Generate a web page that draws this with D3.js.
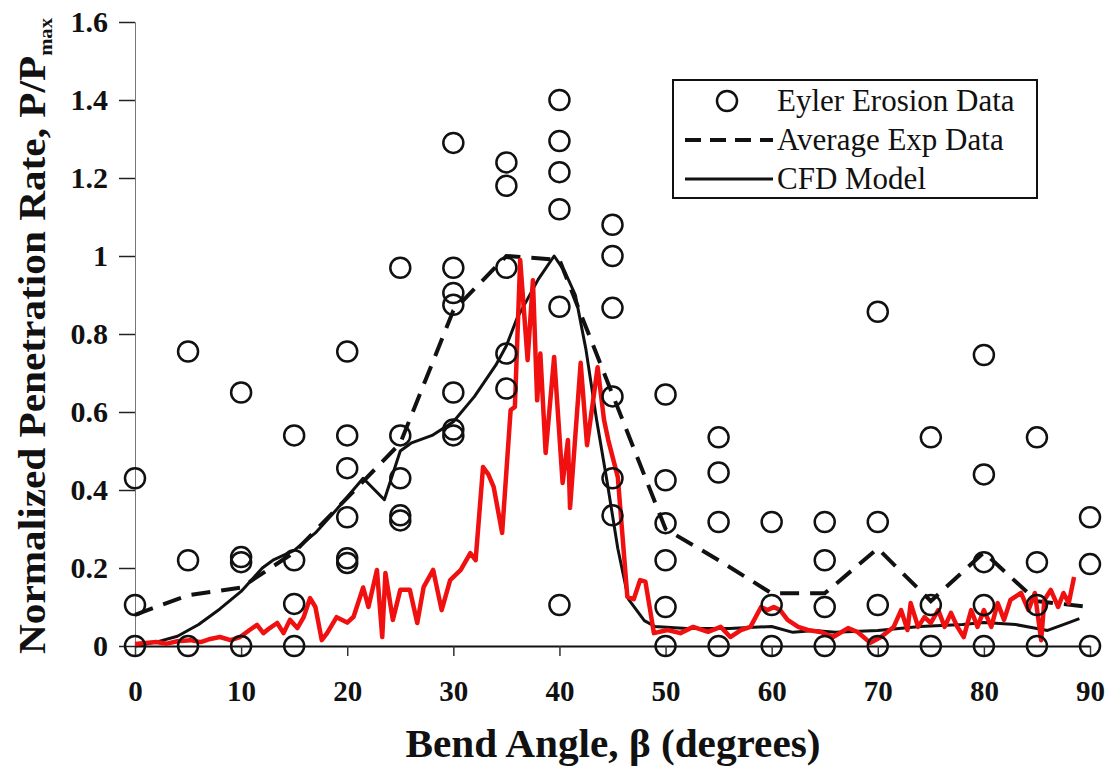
<!DOCTYPE html>
<html>
<head>
<meta charset="utf-8">
<script src="https://cdn.jsdelivr.net/npm/d3@7"></script>
<style>
  html, body { margin: 0; padding: 0; background: #fff; }
  svg { display: block; font-family: "Liberation Serif", "Times New Roman", serif; }
</style>
</head>
<body>
<svg id="chart" width="1109" height="766"></svg>
<script>
// Bend angles where the erosion data was measured
const angles = [0, 5, 10, 15, 20, 25, 30, 35, 40, 45, 50, 55, 60, 65, 70, 75, 80, 85, 90];

// Eyler erosion data, several readings per angle
const eylerValues = [
  [0.43, 0.105, 0],
  [0.755, 0.22, 0],
  [0.65, 0.228, 0.215, 0],
  [0.54, 0.22, 0.108, 0],
  [0.755, 0.54, 0.456, 0.33, 0.225, 0.213],
  [0.97, 0.54, 0.43, 0.335, 0.322],
  [1.29, 0.97, 0.905, 0.875, 0.65, 0.555, 0.54],
  [1.24, 1.18, 0.97, 0.75, 0.66],
  [1.40, 1.295, 1.215, 1.12, 0.87, 0.105],
  [1.08, 1.0, 0.867, 0.64, 0.43, 0.335],
  [0.645, 0.425, 0.315, 0.22, 0.10, 0],
  [0.535, 0.445, 0.318, 0],
  [0.318, 0.105, 0],
  [0.318, 0.22, 0.10, 0],
  [0.857, 0.318, 0.105, 0],
  [0.535, 0.105, 0],
  [0.746, 0.44, 0.215, 0.105, 0],
  [0.535, 0.215, 0.105, 0],
  [0.33, 0.21, 0]
];

// Average experimental data
const avgExp = [0.08, 0.13, 0.15, 0.24, 0.38, 0.52, 0.86, 1.0, 0.99, 0.645, 0.30, 0.22, 0.135, 0.135, 0.25, 0.115, 0.24, 0.115, 0.10];

// CFD model curve
const cfdAngles = [0, 2, 4, 6, 8, 10, 12, 13, 15, 17, 19, 21.5, 23.5, 25, 26, 28, 30, 32, 34, 35, 36, 37, 38, 39.5, 40.5, 41.5, 42.5, 43.5, 44.5, 45.5, 46.5, 48, 49, 52, 56, 60, 62, 64, 66, 70, 74, 78, 80, 83, 85, 86, 88, 89];
const cfdValues = [0, 0.01, 0.025, 0.055, 0.095, 0.14, 0.2, 0.22, 0.245, 0.29, 0.35, 0.43, 0.375, 0.5, 0.52, 0.54, 0.575, 0.64, 0.72, 0.77, 0.84, 0.89, 0.94, 1.0, 0.96, 0.9, 0.76, 0.58, 0.42, 0.25, 0.12, 0.065, 0.05, 0.045, 0.045, 0.05, 0.035, 0.04, 0.035, 0.04, 0.05, 0.055, 0.06, 0.055, 0.045, 0.04, 0.06, 0.07];

// Red overlay curve
const redAngles = [0, 1, 2, 3, 4, 5.2, 6.2, 7.1, 8, 9, 9.9, 10.8, 11.5, 12.1, 12.7, 13.4, 14, 14.6, 15.3, 15.9, 16.5, 17, 17.6, 18.1, 19, 20, 20.6, 21.5, 22, 22.8, 23.3, 23.6, 24.3, 25, 25.9, 26.6, 27.2, 28.1, 28.9, 29.7, 30.7, 31.6, 32.1, 32.8, 33.3, 33.8, 34.6, 35.4, 35.8, 36.3, 37, 37.5, 37.9, 38.2, 38.7, 39.5, 40.3, 40.8, 41, 42, 42.6, 43.6, 44.2, 44.6, 45.5, 46.4, 47, 47.6, 48.1, 48.5, 48.9, 50.2, 51.4, 52.6, 54, 55.2, 56.1, 57.1, 58, 59, 59.6, 60.2, 60.8, 61.5, 62.5, 63.4, 64.6, 65.8, 67.2, 68.1, 69.3, 70.3, 71.5, 72.2, 72.8, 73.1, 73.8, 74.4, 75, 75.7, 76.3, 76.9, 77.5, 78.1, 78.8, 79.4, 80, 80.7, 81.3, 81.9, 82.5, 83.5, 84.2, 84.8, 85.4, 85.7, 86.3, 87, 87.5, 88, 88.5];
const redValues = [0.005, 0.008, 0.01, 0.006, 0.012, 0.015, 0.01, 0.018, 0.023, 0.015, 0.023, 0.041, 0.054, 0.033, 0.046, 0.059, 0.033, 0.067, 0.046, 0.074, 0.123, 0.10, 0.015, 0.033, 0.074, 0.06, 0.075, 0.15, 0.10, 0.195, 0.023, 0.187, 0.067, 0.144, 0.144, 0.059, 0.151, 0.195, 0.092, 0.169, 0.195, 0.238, 0.22, 0.459, 0.44, 0.408, 0.29, 0.605, 0.613, 0.99, 0.733, 0.938, 0.63, 0.75, 0.495, 0.741, 0.418, 0.528, 0.354, 0.726, 0.515, 0.715, 0.58, 0.528, 0.433, 0.126, 0.12, 0.169, 0.165, 0.10, 0.033, 0.041, 0.033, 0.049, 0.036, 0.049, 0.023, 0.041, 0.049, 0.10, 0.092, 0.10, 0.092, 0.067, 0.049, 0.041, 0.036, 0.023, 0.046, 0.036, 0.008, 0.023, 0.049, 0.092, 0.041, 0.11, 0.049, 0.074, 0.059, 0.092, 0.049, 0.085, 0.049, 0.023, 0.092, 0.049, 0.092, 0.049, 0.11, 0.067, 0.118, 0.136, 0.092, 0.136, 0.015, 0.118, 0.144, 0.10, 0.136, 0.11, 0.177];

const xTicks = [0, 10, 20, 30, 40, 50, 60, 70, 80, 90];
const yTicks = [0, 0.2, 0.4, 0.6, 0.8, 1, 1.2, 1.4, 1.6];

const svg = d3.select("#chart");

const x = d3.scaleLinear().domain([0, 90]).range([135, 1090]);
const y = d3.scaleLinear().domain([0, 1.6]).range([646, 22]);

// left axis: thin line, ticks pointing left
const yAxis = d3.axisLeft(y)
  .tickValues(yTicks)
  .tickSize(16)
  .tickPadding(11)
  .tickFormat(d => d === 0 || d === 1 ? d3.format("d")(d) : d3.format(".1f")(d));

const gy = svg.append("g").attr("transform", "translate(135,0)").call(yAxis);
gy.select(".domain").attr("stroke", "#777").attr("stroke-width", 1);
gy.selectAll(".tick line").attr("stroke", "#222").attr("stroke-width", 1.5);
gy.selectAll(".tick text")
  .attr("font-family", "Liberation Serif, serif")
  .attr("font-weight", "bold")
  .attr("font-size", 30)
  .attr("fill", "#111");

// bottom axis on y = 0
const xAxis = d3.axisBottom(x)
  .tickValues(xTicks)
  .tickSize(10)
  .tickPadding(24)
  .tickSizeOuter(0);

const gx = svg.append("g").attr("transform", `translate(0,${y(0)})`).call(xAxis);
gx.select(".domain").attr("stroke", "#111").attr("stroke-width", 2);
gx.selectAll(".tick line").attr("stroke", "#333").attr("stroke-width", 1.5);
gx.selectAll(".tick text")
  .attr("font-family", "Liberation Serif, serif")
  .attr("font-weight", "bold")
  .attr("font-size", 29)
  .attr("fill", "#111");

// average exp data (dashed)
const line = d3.line().x(d => x(d[0])).y(d => y(d[1]));

svg.append("path")
  .datum(angles.map((a, i) => [a, avgExp[i]]))
  .attr("d", line)
  .attr("fill", "none")
  .attr("stroke", "#111")
  .attr("stroke-width", 4)
  .attr("stroke-dasharray", "19 11");

// CFD model
svg.append("path")
  .datum(cfdAngles.map((a, i) => [a, cfdValues[i]]))
  .attr("d", line)
  .attr("fill", "none")
  .attr("stroke", "#111")
  .attr("stroke-width", 3)
  .attr("stroke-linejoin", "round");

// red curve
svg.append("path")
  .datum(redAngles.map((a, i) => [a, redValues[i]]))
  .attr("d", line)
  .attr("fill", "none")
  .attr("stroke", "#f01010")
  .attr("stroke-width", 4.5)
  .attr("stroke-linejoin", "round");

// Eyler erosion circles
const pts = [];
angles.forEach((a, i) => eylerValues[i].forEach(v => pts.push([a, v])));

svg.append("g")
  .selectAll("circle")
  .data(pts)
  .join("circle")
  .attr("cx", d => x(d[0]))
  .attr("cy", d => y(d[1]))
  .attr("r", 10)
  .attr("fill", "none")
  .attr("stroke", "#111")
  .attr("stroke-width", 2.5);

// axis titles
svg.append("text")
  .attr("x", 613)
  .attr("y", 757)
  .attr("text-anchor", "middle")
  .attr("font-weight", "bold")
  .attr("font-size", 39)
  .attr("fill", "#111")
  .attr("textLength", 415)
  .attr("lengthAdjust", "spacingAndGlyphs")
  .text("Bend Angle, β (degrees)");

const yt = svg.append("text")
  .attr("transform", "translate(45,336) rotate(-90)")
  .attr("text-anchor", "middle")
  .attr("font-weight", "bold")
  .attr("font-size", 38)
  .attr("fill", "#111")
  .attr("textLength", 636)
  .attr("lengthAdjust", "spacingAndGlyphs");
yt.append("tspan").text("Normalized Penetration Rate, P/P");
yt.append("tspan").attr("font-size", 19).attr("dy", 7).text("max");

// legend
const legend = svg.append("g");
legend.append("rect")
  .attr("x", 673).attr("y", 80)
  .attr("width", 364).attr("height", 118)
  .attr("fill", "#fff")
  .attr("stroke", "#111")
  .attr("stroke-width", 2);

const legendItems = ["Eyler Erosion Data", "Average Exp Data", "CFD Model"];
legendItems.forEach((label, i) => {
  const cy = 101 + i * 39;
  if (i === 0) {
    legend.append("circle").attr("cx", 727).attr("cy", cy).attr("r", 10)
      .attr("fill", "none").attr("stroke", "#111").attr("stroke-width", 2.5);
  } else {
    legend.append("line")
      .attr("x1", 685).attr("x2", 773).attr("y1", cy).attr("y2", cy)
      .attr("stroke", "#111")
      .attr("stroke-width", i === 1 ? 4 : 3)
      .attr("stroke-dasharray", i === 1 ? "16 9" : null);
  }
  legend.append("text")
    .attr("x", 777).attr("y", cy + 10)
    .attr("font-size", 31)
    .attr("fill", "#111")
    .text(label);
});
</script>
</body>
</html>
